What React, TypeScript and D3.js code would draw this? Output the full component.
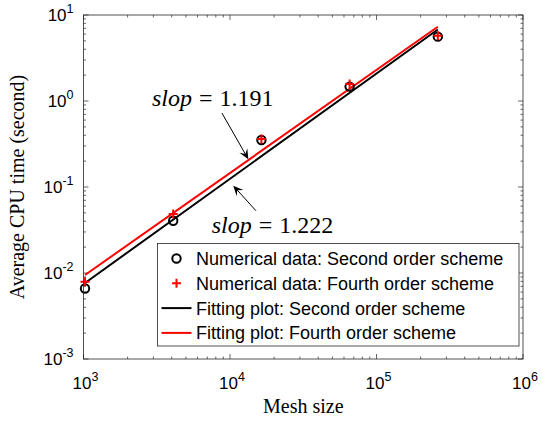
import React from 'react';
import * as d3 from 'd3';

// mesh sizes and average cpu times
const meshSize = [1024, 4096, 16384, 65536, 262144];
const cpuSecondOrder = [0.0066, 0.0405, 0.352, 1.47, 5.6];
const cpuFourthOrder = [0.0079, 0.0485, 0.361, 1.58, 5.74];

// fitted power laws (end points)
const fitMesh = [1024, 262144];
const fitSecondOrder = [0.00766, 6.78];
const fitFourthOrder = [0.00948, 7.31];

const slopeLabels = ['1.191', '1.222'];
const xExponents = [3, 4, 5, 6];
const yExponents = [-3, -2, -1, 0, 1];
const legendLabels = [
  'Numerical data: Second order scheme',
  'Numerical data: Fourth order scheme',
  'Fitting plot: Second order scheme',
  'Fitting plot: Fourth order scheme',
];

const width = 543;
const height = 424;
const margin = { top: 15, right: 20, bottom: 65, left: 83.5 };

const xScale = d3.scaleLog().domain([1e3, 1e6]).range([margin.left, width - margin.right]);
const yScale = d3.scaleLog().domain([1e-3, 1e1]).range([height - margin.bottom, margin.top]);

const sans = '"Liberation Sans", Arial, Helvetica, sans-serif';
const serif = '"Liberation Serif", "Times New Roman", serif';

const minorValues = (lo: number, hi: number) => {
  const out: number[] = [];
  for (let e = lo; e < hi; e++) {
    for (let m = 2; m <= 9; m++) out.push(m * Math.pow(10, e));
  }
  return out;
};

const Arrow = ({ x1, y1, x2, y2 }: { x1: number; y1: number; x2: number; y2: number }) => {
  const ang = Math.atan2(y2 - y1, x2 - x1);
  const len = 10;
  const half = 4.5;
  const ux = Math.cos(ang);
  const uy = Math.sin(ang);
  const bx = x2 - ux * len;
  const by = y2 - uy * len;
  const nx = x2 - ux * len * 0.6;
  const ny = y2 - uy * len * 0.6;
  const p = `M${x2},${y2} L${bx - uy * half},${by + ux * half} L${nx},${ny} L${bx + uy * half},${by - ux * half} Z`;
  return (
    <g>
      <line x1={x1} y1={y1} x2={nx} y2={ny} stroke="#000" strokeWidth={1} />
      <path d={p} fill="#000" />
    </g>
  );
};

const SlopeText = ({ x, y, value }: { x: number; y: number; value: string }) => (
  <text x={x} y={y} fontFamily={serif} fontSize={24} fill="#000">
    <tspan fontStyle="italic">slop</tspan>
    <tspan dx={7}>=</tspan>
    <tspan dx={7}>{value}</tspan>
  </text>
);

const App = () => {
  const x0 = margin.left;
  const x1 = width - margin.right;
  const y0 = height - margin.bottom;
  const y1 = margin.top;

  const line = d3.line<[number, number]>()
    .x(d => xScale(d[0]))
    .y(d => yScale(d[1]));

  const fitBlack = fitMesh.map((m, i) => [m, fitSecondOrder[i]] as [number, number]);
  const fitRed = fitMesh.map((m, i) => [m, fitFourthOrder[i]] as [number, number]);

  const xMinor = minorValues(3, 6);
  const yMinor = minorValues(-3, 1);

  const legend = { left: 157.5, top: 243.5, right: 519, bottom: 346 };
  const rowY = (i: number) => 258.5 + i * 24.8;

  return (
    <svg width={width} height={height} style={{ position: 'absolute', left: 0, top: 0, background: '#fff' }}>
      <rect x={0} y={0} width={width} height={height} fill="#fff" />

      {/* ticks */}
      <g stroke="#262626" strokeWidth={0.7}>
        {xExponents.map(e => {
          const x = xScale(Math.pow(10, e));
          return (
            <g key={'xt' + e}>
              <line x1={x} x2={x} y1={y0} y2={y0 - 5} />
              <line x1={x} x2={x} y1={y1} y2={y1 + 5} />
            </g>
          );
        })}
        {xMinor.map(v => (
          <g key={'xm' + v}>
            <line x1={xScale(v)} x2={xScale(v)} y1={y0} y2={y0 - 2.5} />
            <line x1={xScale(v)} x2={xScale(v)} y1={y1} y2={y1 + 2.5} />
          </g>
        ))}
        {yExponents.map(e => {
          const y = yScale(Math.pow(10, e));
          return (
            <g key={'yt' + e}>
              <line x1={x0} x2={x0 + 5} y1={y} y2={y} />
              <line x1={x1} x2={x1 - 5} y1={y} y2={y} />
            </g>
          );
        })}
        {yMinor.map(v => (
          <g key={'ym' + v}>
            <line x1={x0} x2={x0 + 2.5} y1={yScale(v)} y2={yScale(v)} />
            <line x1={x1} x2={x1 - 2.5} y1={yScale(v)} y2={yScale(v)} />
          </g>
        ))}
      </g>

      {/* fitted lines */}
      <path d={line(fitBlack) ?? ''} fill="none" stroke="#000" strokeWidth={2} />
      <path d={line(fitRed) ?? ''} fill="none" stroke="#ff0000" strokeWidth={2} />

      {/* data markers */}
      {meshSize.map((m, i) => (
        <circle key={'c' + i} cx={xScale(m)} cy={yScale(cpuSecondOrder[i])} r={4.2}
          fill="none" stroke="#000" strokeWidth={2} />
      ))}
      {meshSize.map((m, i) => {
        const cx = xScale(m);
        const cy = yScale(cpuFourthOrder[i]);
        return (
          <path key={'p' + i} d={`M${cx - 4.5},${cy} H${cx + 4.5} M${cx},${cy - 4.5} V${cy + 4.5}`}
            stroke="#ff0000" strokeWidth={2} />
        );
      })}

      {/* box */}
      <rect x={x0} y={y1} width={x1 - x0} height={y0 - y1} fill="none" stroke="#262626" strokeWidth={0.8} />

      {/* tick labels */}
      <g fontFamily={sans} fontSize={17} fill="#000">
        {xExponents.map(e => (
          <text key={'xl' + e} x={xScale(Math.pow(10, e)) + 2} y={y0 + 30} textAnchor="middle">
            10<tspan dy={-8} fontSize={12.5}>{e}</tspan>
          </text>
        ))}
        {yExponents.map(e => (
          <text key={'yl' + e} x={x0 - 10} y={yScale(Math.pow(10, e)) + 6} textAnchor="end">
            10<tspan dy={-8} fontSize={12.5}>{e}</tspan>
          </text>
        ))}
      </g>

      {/* axis titles */}
      <text x={(x0 + x1) / 2} y={413} textAnchor="middle" fontFamily={serif} fontSize={20} fill="#000">
        Mesh size
      </text>
      <text transform={`translate(24,${(y0 + y1) / 2}) rotate(-90)`} textAnchor="middle"
        fontFamily={serif} fontSize={20} fill="#000">
        Average CPU time (second)
      </text>

      {/* slope annotations */}
      <SlopeText x={xScale(2930)} y={yScale(0.875)} value={slopeLabels[0]} />
      <Arrow x1={xScale(8810)} y1={yScale(0.724)} x2={xScale(13340)} y2={yScale(0.21)} />
      <SlopeText x={xScale(7500)} y={yScale(0.0292)} value={slopeLabels[1]} />
      <Arrow x1={xScale(15030)} y1={yScale(0.053)} x2={xScale(10530)} y2={yScale(0.1035)} />

      {/* legend */}
      <rect x={legend.left} y={legend.top} width={legend.right - legend.left} height={legend.bottom - legend.top}
        fill="#fff" stroke="#262626" strokeWidth={0.8} />
      <circle cx={176.5} cy={rowY(0)} r={4.2} fill="none" stroke="#000" strokeWidth={2} />
      <path d={`M${172},${rowY(1)} H${181} M${176.5},${rowY(1) - 4.5} V${rowY(1) + 4.5}`} stroke="#ff0000" strokeWidth={2} />
      <line x1={161.5} x2={191.5} y1={rowY(2)} y2={rowY(2)} stroke="#000" strokeWidth={2} />
      <line x1={161.5} x2={191.5} y1={rowY(3)} y2={rowY(3)} stroke="#ff0000" strokeWidth={2} />
      <g fontFamily={sans} fontSize={18} fill="#000">
        {legendLabels.map((t, i) => (
          <text key={t} x={196} y={rowY(i) + 6.5}>{t}</text>
        ))}
      </g>
    </svg>
  );
};

export default App;
